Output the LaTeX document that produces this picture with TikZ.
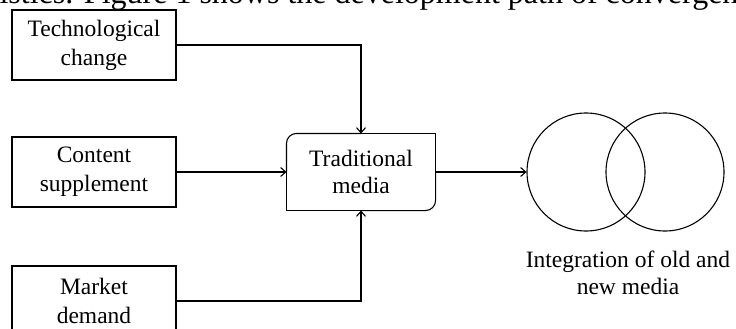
\documentclass[tikz,border=0pt]{standalone}
\usepackage{fontspec}
\setmainfont{Liberation Serif}
\usetikzlibrary{arrows.meta}

\begin{document}
\begin{tikzpicture}[x=1pt, y=-1pt, line width=1.1pt, >={Straight Barb[length=5pt,width=9pt]},
		main/.style = {draw, rectangle, minimum width=164pt, minimum height=70pt, align=center, font=\fontsize{23.5}{29}\selectfont},
		letter/.style={align=center, font=\fontsize{23.5}{27}\selectfont},
		ring/.style={draw, circle, minimum size=118pt, inner sep=0pt}] 
		
		\useasboundingbox (0,0) rectangle (736,329);
		
		\node[anchor=base west, inner sep=0pt, font=\fontsize{32}{38}\selectfont] (0) at (-1,4) {istics. Figure 1 shows the development path of convergen};
		
		\node[main] (1) at (94,45) {Technological\\change};
		\node[main] (2) at (94,172) {Content\\supplement};
		\node[main] (3) at (94,301) {Market\\demand};
		\node[letter, minimum width=148pt, minimum height=76pt] (4) at (361,172) {Traditional\\media};
		\node[ring] (5) at (586,172) {};
		\node[ring] (6) at (665,172) {};
		\node[letter] (7) at (628,273) {Integration of old and\\new media};
		
		% outline of the media box, two corners rounded
		\draw[rounded corners=10pt] (4.west) |- (4.north);
		\draw (4.north) -| (4.east);
		\draw[rounded corners=10pt] (4.east) |- (4.south);
		\draw (4.south) -| (4.west);
		
		\draw[->] (1.east) -| (4.north);
		\draw[->] (2.east) -- (4.west);
		\draw[->] (3.east) -| (4.south);
		\draw[->] (4.east) -- (5.west);
	\end{tikzpicture}
\end{document}
